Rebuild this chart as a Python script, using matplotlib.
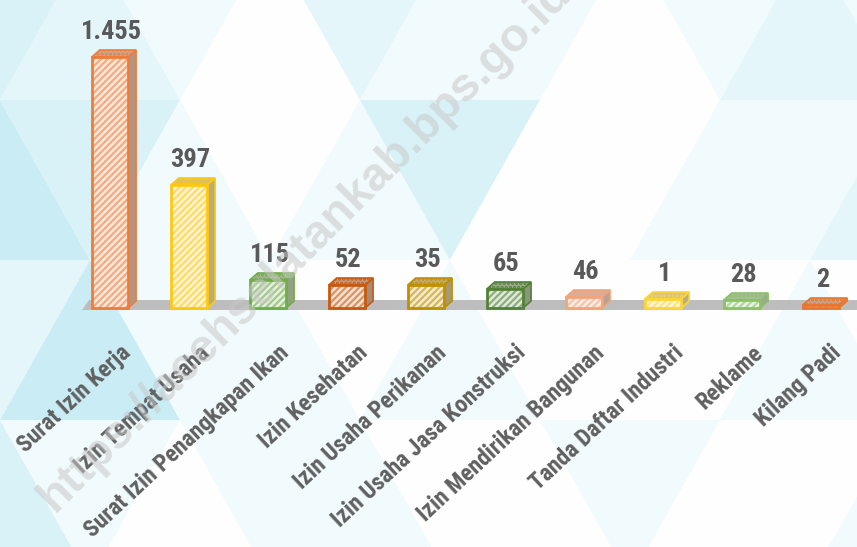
import numpy as np
import matplotlib
matplotlib.use("Agg")
import matplotlib.pyplot as plt
from matplotlib.patches import Polygon
from matplotlib import colors as mcolors

# data
categories = ["Surat Izin Kerja", "Izin Tempat Usaha", "Surat Izin Penangkapan Ikan",
              "Izin Kesehatan", "Izin Usaha Perikanan", "Izin Usaha Jasa Konstruksi",
              "Izin Mendirikan Bangunan", "Tanda Daftar Industri", "Reklame", "Kilang Padi"]
values = [1455, 397, 115, 52, 35, 65, 46, 1, 28, 2]
value_labels = ["1.455", "397", "115", "52", "35", "65", "46", "1", "28", "2"]
# drawn bar heights as they appear in the infographic (not to scale)
drawn_heights = [251, 123, 28, 23, 23, 19, 11, 9, 8, 3]

edge_colors = ["#EE7D3B", "#FFC814", "#70AD47", "#C55A11", "#BF9000",
               "#548235", "#F4A37A", "#FFD43B", "#8CC168", "#E9762F"]

plt.rcParams['hatch.linewidth'] = 1.6
label_font = ['Roboto Condensed', 'Liberation Sans Narrow', 'Roboto', 'DejaVu Sans']

W, H = 857, 547
fig = plt.figure(figsize=(W / 100, H / 100), dpi=100)

# background with light cyan triangles
bg = fig.add_axes([0, 0, 1, 1])
bg.set_xlim(0, W)
bg.set_ylim(H, 0)
bg.axis("off")
bg.add_patch(plt.Rectangle((0, 0), W, H, color="#F6FCFE", zorder=0))
shades = ["#FFFFFF", "#F1FAFC", "#E3F6FA", "#D5F1F7", "#C6ECF4"]
pattern = [
    [3, 2, 1, 0, 2, 1, 1, 0, 1, 2, 1, 1, 2],
    [4, 3, 1, 0, 1, 3, 0, 0, 1, 1, 2, 0, 1],
    [2, 4, 1, 1, 0, 1, 0, 0, 0, 1, 0, 1, 2],
    [3, 1, 0, 1, 1, 0, 0, 1, 0, 0, 1, 2, 1],
]
tw, th = 180, 160
for r, row in enumerate(pattern):
    y0 = -60 + r * th
    for c, s in enumerate(row):
        x0 = -tw / 2 + c * tw / 2
        if (c + r) % 2 == 0:
            pts = [(x0, y0), (x0 + tw, y0), (x0 + tw / 2, y0 + th)]
        else:
            pts = [(x0 + tw / 2, y0), (x0, y0 + th), (x0 + tw, y0 + th)]
        bg.add_patch(Polygon(pts, closed=True, facecolor=shades[s],
                             edgecolor="none", alpha=0.9, zorder=1))

# chart axes, same box, data coordinates
ax = fig.add_axes([0, 0, 1, 1], zorder=2)
ax.patch.set_alpha(0)
ax.axis("off")
x0px, step, base = 110, 79, 308
ax.set_xlim(-x0px / step, (W - x0px) / step)
ax.set_ylim(-(H - base), base)

x = np.arange(len(categories))
bw = 0.46
dx, dy = 0.10, 7

# floor band
ax.add_patch(Polygon([(-0.36, -2), (x[-1] + 1, -2), (x[-1] + 1, 8), (-0.26, 8)],
                     closed=True, facecolor="#BDBDBD", edgecolor="none", zorder=2))


def lighten(c, f):
    r, g, b = mcolors.to_rgb(c)
    return (r + (1 - r) * f, g + (1 - g) * f, b + (1 - b) * f)


def mix_gray(c, f):
    r, g, b = mcolors.to_rgb(c)
    gr = 0.62
    return (r * (1 - f) + gr * f, g * (1 - f) + gr * f, b * (1 - f) + gr * f)


for i, (h, col) in enumerate(zip(drawn_heights, edge_colors)):
    xl, xr = i - bw / 2, i + bw / 2
    # side face
    ax.add_patch(Polygon([(xr, 0), (xr, h), (xr + dx, h + dy), (xr + dx, dy)], closed=True,
                         facecolor=mix_gray(col, 0.7), edgecolor=col, lw=1.2, zorder=3))
    # top face
    ax.add_patch(Polygon([(xl, h), (xr, h), (xr + dx, h + dy), (xl + dx, h + dy)], closed=True,
                         facecolor=mix_gray(lighten(col, 0.4), 0.5), edgecolor=col,
                         lw=1.2, hatch="....", zorder=3))

# front faces
ax.bar(x, drawn_heights, width=bw, color=[lighten(c, 0.82) for c in edge_colors],
       edgecolor=[lighten(c, 0.35) for c in edge_colors], linewidth=0,
       hatch="/////", zorder=4)
ax.bar(x, drawn_heights, width=bw, fill=False, edgecolor=edge_colors,
       linewidth=2, zorder=5)

for i, (h, lab) in enumerate(zip(drawn_heights, value_labels)):
    ax.text(i + 0.02, h + dy + 6, lab, ha="center", va="bottom", fontsize=19,
            fontweight="bold", color="#595959", family=label_font, zorder=6)

for i, cat in enumerate(categories):
    ax.text(i + 0.12, -33, cat, rotation=43, rotation_mode="anchor",
            ha="right", va="top", fontsize=17, fontweight="bold",
            color="#606060", family=label_font, zorder=6)

# watermark
ax.text((305 - x0px) / step, base - 245, "https://acehselatankab.bps.go.id",
        rotation=45, ha="center", va="center", fontsize=34, fontweight="bold",
        color="#C8C8C8", alpha=0.55, family=['Liberation Sans', 'DejaVu Sans'], zorder=7)

fig.savefig("out.png", dpi=100)
